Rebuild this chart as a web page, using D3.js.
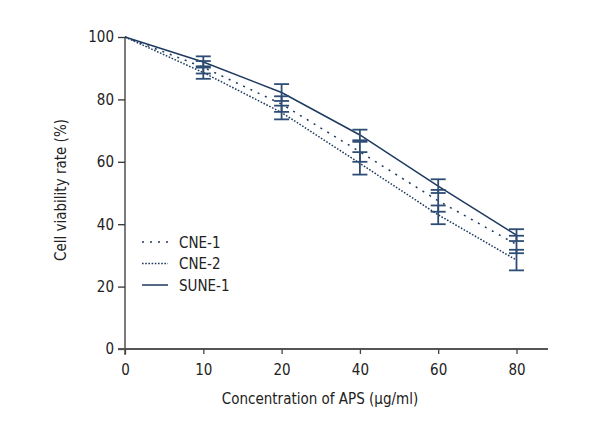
<!DOCTYPE html>
<html><head><meta charset="utf-8">
<script src="https://cdn.jsdelivr.net/npm/d3@7"></script>
<style>body{margin:0;background:#fff}svg{display:block}text{font-family:"Liberation Sans Narrow","DejaVu Sans Condensed",sans-serif;fill:#222}</style>
</head><body><svg id="c" width="600" height="440"></svg>
<script>
const concentrations = ["0","10","20","40","60","80"];
const yTicks = [0,20,40,60,80,100];
const seriesNames = ["CNE-1","CNE-2","SUNE-1"];
const cne1 = [100, 90.3, 78.5, 63.2, 47.5, 33.5];
const cne2 = [100, 88.6, 75.8, 59.5, 43.0, 28.5];
const sune1 = [100, 92.0, 82.2, 68.6, 52.2, 36.5];
const cne1Err = [0, 2.0, 2.5, 3.2, 3.5, 2.8];
const cne2Err = [0, 2.0, 2.2, 3.6, 3.0, 3.3];
const sune1Err = [0, 1.8, 2.7, 1.7, 2.2, 1.9];

const series = [
  {name: seriesNames[0], values: cne1, err: cne1Err, dash: "2,6"},
  {name: seriesNames[1], values: cne2, err: cne2Err, dash: "1.6,1.6"},
  {name: seriesNames[2], values: sune1, err: sune1Err, dash: null}
];
const lineColor = "#1e3a5f", barColor = "#2e4d75";
const svg = d3.select("#c");
const x = d3.scalePoint().domain(concentrations).range([125, 516.5]);
const y = d3.scaleLinear().domain([0,100]).range([349, 37]);

const yAxis = svg.append("g").attr("transform","translate(125,0)")
  .call(d3.axisLeft(y).tickValues(yTicks).tickSize(7).tickPadding(4));
yAxis.select(".domain").attr("stroke","#333").attr("stroke-width",1.3).attr("d","M0,37V355");
yAxis.selectAll(".tick line").attr("stroke","#333").attr("stroke-width",1.3);
yAxis.selectAll("text").attr("font-size",15).style("fill","#222");

const xAxis = svg.append("g").attr("transform","translate(0,349)")
  .call(d3.axisBottom(x).tickSize(5).tickPadding(10));
xAxis.select(".domain").attr("stroke","#555").attr("stroke-width",1.8).attr("d","M118,0H548");
xAxis.selectAll(".tick line").attr("stroke","#444").attr("stroke-width",1.3);
xAxis.selectAll("text").attr("font-size",15).style("fill","#222");

svg.append("text").attr("x",320).attr("y",404).attr("text-anchor","middle").attr("font-size",15).text("Concentration of APS (μg/ml)");
svg.append("text").attr("transform","translate(66,190) rotate(-90)").attr("text-anchor","middle").attr("font-size",15).text("Cell viability rate (%)");

const line = d3.line().x((d,i)=>x(concentrations[i])).y(d=>y(d));
series.forEach(s=>{
  svg.append("path").attr("d",line(s.values)).attr("fill","none").attr("stroke",lineColor)
    .attr("stroke-width",1.5).attr("stroke-dasharray",s.dash);
});
series.forEach(s=>{
  s.values.forEach((v,i)=>{
    if(!s.err[i]) return;
    const cx = x(concentrations[i]);
    const g = svg.append("g").attr("stroke",barColor).attr("stroke-width",1.8);
    g.append("line").attr("x1",cx).attr("x2",cx).attr("y1",y(v+s.err[i])).attr("y2",y(v-s.err[i]));
    [v+s.err[i], v-s.err[i]].forEach(e=>{
      g.append("line").attr("x1",cx-7.5).attr("x2",cx+7.5).attr("y1",y(e)).attr("y2",y(e));
    });
  });
});
series.forEach((s,i)=>{
  const ly = 242 + i*21.5;
  svg.append("line").attr("x1",142).attr("x2",168).attr("y1",ly).attr("y2",ly)
    .attr("stroke",lineColor).attr("stroke-width",1.5).attr("stroke-dasharray",s.dash);
  svg.append("text").attr("x",179).attr("y",ly+5.5).attr("font-size",15).text(s.name);
});
</script></body></html>
